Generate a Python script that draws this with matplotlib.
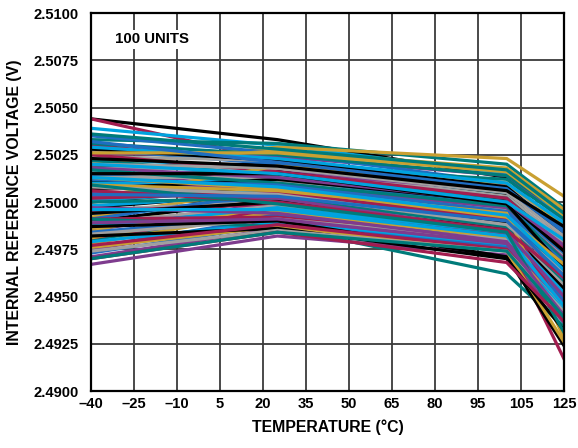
import matplotlib
matplotlib.use('Agg')
import matplotlib.pyplot as plt

plt.rcParams['font.family'] = ['Liberation Sans', 'DejaVu Sans']
plt.rcParams['font.weight'] = 'bold'

# temperatures where each unit was measured
temps = [-40, 25, 105, 125]

# internal reference voltage (V) for the 100 units at each temperature
v_m40 = [2.5044, 2.5044, 2.5039, 2.5033, 2.5019, 2.5006, 2.5026, 2.5035, 2.5019, 2.5030,
         2.5023, 2.5012, 2.5021, 2.5018, 2.5009, 2.5028, 2.4997, 2.5015, 2.5016, 2.5031,
         2.4992, 2.5024, 2.4985, 2.5003, 2.5000, 2.4982, 2.5007, 2.4988, 2.4984, 2.5004,
         2.5011, 2.4994, 2.5011, 2.5008, 2.4998, 2.5022, 2.4986, 2.4996, 2.4975, 2.5014,
         2.4990, 2.5025, 2.5010, 2.4980, 2.5002, 2.5013, 2.4967, 2.4976, 2.5028, 2.4981,
         2.5001, 2.5005, 2.4981, 2.5016, 2.5003, 2.4991, 2.5007, 2.4995, 2.5029, 2.5000,
         2.5026, 2.4989, 2.5018, 2.4984, 2.4994, 2.5002, 2.4987, 2.5017, 2.4978, 2.5020,
         2.4971, 2.5012, 2.5015, 2.4991, 2.4979, 2.4991, 2.5009, 2.4983, 2.5005, 2.4973,
         2.4987, 2.5006, 2.5020, 2.5036, 2.4976, 2.5008, 2.4997, 2.5032, 2.4982, 2.4977,
         2.4996, 2.5009, 2.5013, 2.4974, 2.4989, 2.5004, 2.5023, 2.4970, 2.5013, 2.4970]
v_25 = [2.5033, 2.5022, 2.5030, 2.5031, 2.5029, 2.5012, 2.5024, 2.5026, 2.5020, 2.5021,
        2.5018, 2.5019, 2.5027, 2.5017, 2.5016, 2.5020, 2.5005, 2.5013, 2.5011, 2.5025,
        2.5008, 2.5022, 2.5000, 2.5010, 2.5008, 2.4996, 2.5014, 2.5006, 2.5010, 2.5009,
        2.5007, 2.5002, 2.5016, 2.5003, 2.5004, 2.5014, 2.4997, 2.5000, 2.4990, 2.5012,
        2.5001, 2.5016, 2.5010, 2.4994, 2.5019, 2.5013, 2.4982, 2.4992, 2.5022, 2.4995,
        2.5006, 2.5004, 2.4998, 2.5011, 2.5009, 2.5005, 2.5012, 2.4999, 2.5023, 2.5002,
        2.5026, 2.4998, 2.5013, 2.4993, 2.5000, 2.5005, 2.4997, 2.5010, 2.4995, 2.5018,
        2.4986, 2.5009, 2.5015, 2.4992, 2.4989, 2.4987, 2.5006, 2.4991, 2.5002, 2.4988,
        2.4990, 2.5000, 2.5015, 2.5028, 2.4987, 2.5004, 2.4994, 2.5021, 2.4986, 2.4988,
        2.4996, 2.4999, 2.5007, 2.4985, 2.4991, 2.5003, 2.5019, 2.4984, 2.5008, 2.4984]
v_105 = [2.5013, 2.5006, 2.5015, 2.5020, 2.5023, 2.4998, 2.5014, 2.5010, 2.5004, 2.5009,
         2.5005, 2.5012, 2.5018, 2.5003, 2.5006, 2.5007, 2.4992, 2.4998, 2.4997, 2.5014,
         2.4997, 2.5008, 2.4987, 2.4996, 2.4994, 2.4984, 2.5001, 2.4991, 2.5001, 2.4993,
         2.4993, 2.4989, 2.5001, 2.4990, 2.4991, 2.5002, 2.4986, 2.4988, 2.4978, 2.4998,
         2.4989, 2.5002, 2.4997, 2.4982, 2.5010, 2.5000, 2.4972, 2.4980, 2.5008, 2.4983,
         2.4994, 2.4992, 2.4987, 2.4996, 2.4997, 2.4993, 2.5000, 2.4986, 2.5010, 2.4987,
         2.5016, 2.4985, 2.5000, 2.4981, 2.4985, 2.4991, 2.4984, 2.4998, 2.4981, 2.5005,
         2.4975, 2.4995, 2.4999, 2.4979, 2.4977, 2.4962, 2.4994, 2.4980, 2.4984, 2.4976,
         2.4971, 2.4985, 2.5000, 2.5017, 2.4974, 2.4988, 2.4979, 2.5007, 2.4970, 2.4975,
         2.4982, 2.4984, 2.4992, 2.4974, 2.4978, 2.4990, 2.5006, 2.4968, 2.4993, 2.4974]
v_125 = [2.4984, 2.4966, 2.4992, 2.4997, 2.5003, 2.4974, 2.4990, 2.4981, 2.4977, 2.4980,
         2.4985, 2.4991, 2.4996, 2.4980, 2.4983, 2.4986, 2.4962, 2.4970, 2.4978, 2.4994,
         2.4973, 2.4989, 2.4958, 2.4967, 2.4971, 2.4949, 2.4975, 2.4964, 2.4978, 2.4969,
         2.4961, 2.4956, 2.4972, 2.4960, 2.4970, 2.4976, 2.4954, 2.4965, 2.4944, 2.4973,
         2.4951, 2.4975, 2.4966, 2.4950, 2.4988, 2.4979, 2.4936, 2.4947, 2.4983, 2.4955,
         2.4968, 2.4962, 2.4957, 2.4971, 2.4970, 2.4959, 2.4974, 2.4953, 2.4989, 2.4957,
         2.4993, 2.4956, 2.4977, 2.4948, 2.4954, 2.4942, 2.4952, 2.4969, 2.4940, 2.4982,
         2.4938, 2.4968, 2.4965, 2.4917, 2.4943, 2.4934, 2.4928, 2.4945, 2.4950, 2.4940,
         2.4924, 2.4960, 2.4980, 2.4994, 2.4926, 2.4963, 2.4946, 2.4984, 2.4932, 2.4941,
         2.4945, 2.4931, 2.4967, 2.4942, 2.4940, 2.4961, 2.4987, 2.4937, 2.4964, 2.4939]

# x ticks every 15 degC (the datasheet labels the 110 gridline as "105")
x_ticks = [-40, -25, -10, 5, 20, 35, 50, 65, 80, 95, 110, 125]
x_labels = ['\u201340', '\u201325', '\u201310', '5', '20', '35', '50', '65', '80', '95', '105', '125']
y_ticks = [2.4900, 2.4925, 2.4950, 2.4975, 2.5000, 2.5025, 2.5050, 2.5075, 2.5100]

colors = ['#000000', '#A21D4F', '#00A3DF', '#007B7A', '#C9A032', '#A0A0A0', '#7E3C8E', '#1F6DC0']

fig = plt.figure(figsize=(5.78, 4.48), dpi=100)
ax = fig.add_axes([91 / 578, 1 - 391 / 448, (564 - 91) / 578, (391 - 13) / 448])

for i in range(len(v_25)):
    ax.plot(temps, [v_m40[i], v_25[i], v_105[i], v_125[i]],
            color=colors[i % len(colors)], lw=2.3, solid_joinstyle='miter')

ax.set_xlim(-40, 125)
ax.set_ylim(2.49, 2.51)
ax.set_xticks(x_ticks)
ax.set_xticklabels(x_labels)
ax.set_yticks(y_ticks)
ax.set_yticklabels(['%.4f' % v for v in y_ticks])
ax.tick_params(length=0, labelsize=10.6)
ax.tick_params(axis='y', pad=9)
ax.tick_params(axis='x', pad=4.5)
ax.grid(True, color='#3a3a3a', lw=1.3)
ax.set_axisbelow(True)
for s in ax.spines.values():
    s.set_linewidth(1.6)

ax.set_xlabel('TEMPERATURE (°C)', fontsize=11.4, fontweight='bold', labelpad=6)
ax.set_ylabel('INTERNAL REFERENCE VOLTAGE (V)', fontsize=11.4, fontweight='bold', labelpad=8)

ax.text(-31.5, 2.5086, '100 UNITS', fontsize=10.8, fontweight='bold', va='center', ha='left',
        bbox=dict(facecolor='white', edgecolor='none', pad=2))

fig.savefig('out.png', dpi=100)
